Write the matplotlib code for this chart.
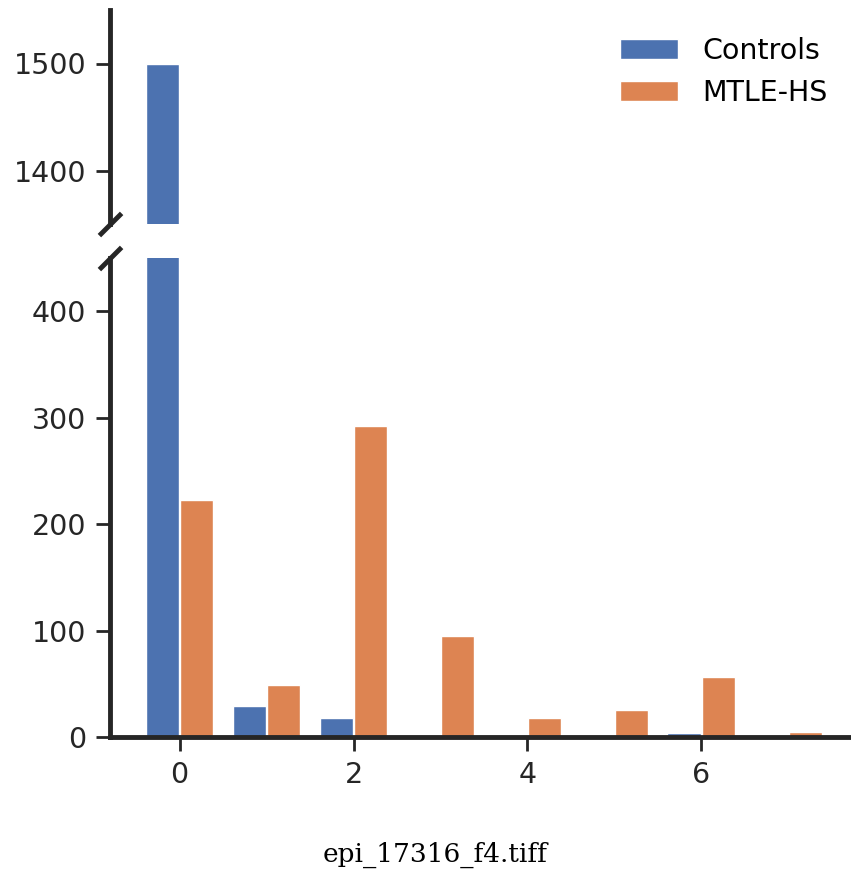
import matplotlib
matplotlib.use('Agg')
import matplotlib.pyplot as plt
import numpy as np

# bar values
positions = [0, 1, 2, 3, 4, 5, 6, 7]
controls = [1500, 29, 18, 0, 0, 0, 4, 0]
mtle_hs = [223, 49, 292, 95, 18, 25, 56, 5]
labels = ["Controls", "MTLE-HS"]
colors = ["#4c72b0", "#dd8452"]
caption = "epi_17316_f4.tiff"

plt.rcParams['font.family'] = ['DejaVu Sans']

fig = plt.figure(figsize=(8.51, 8.76), dpi=100)
W, H = 851, 876
left, right = 110 / W, 1.0
ax_top = fig.add_axes([left, 1 - 224 / H, right - left, (224 - 10) / H])
ax_bot = fig.add_axes([left, 1 - 737 / H, right - left, (737 - 258) / H])

x = np.array(positions)
w = 0.38
for ax in (ax_top, ax_bot):
    ax.bar(x - 0.2, controls, w, color=colors[0], edgecolor='white', linewidth=1, label=labels[0])
    ax.bar(x + 0.2, mtle_hs, w, color=colors[1], edgecolor='white', linewidth=1, label=labels[1])
    ax.set_xlim(-0.8, 7.72)
    for s in ('top', 'right'):
        ax.spines[s].set_visible(False)
    ax.spines['left'].set_linewidth(3.5)
    ax.spines['bottom'].set_linewidth(3.5)
    ax.tick_params(labelsize=20.5, length=10, width=2, pad=7,
                   colors='#262626', labelcolor='#262626')
    ax.spines['left'].set_color('#262626')
    ax.spines['bottom'].set_color('#262626')

ax_top.set_ylim(1350, 1550)
ax_bot.set_ylim(0, 450)
ax_top.set_yticks([1400, 1500])
ax_bot.set_yticks([0, 100, 200, 300, 400])
ax_bot.set_xticks([0, 2, 4, 6])
ax_top.spines['bottom'].set_visible(False)
ax_top.tick_params(axis='x', bottom=False, labelbottom=False)

# diagonal break marks
d = 1
kw = dict(marker=[(-1, -d), (1, d)], markersize=16, linestyle='none',
          color='#262626', mec='#262626', mew=3.5, clip_on=False)
ax_top.plot([0], [0], transform=ax_top.transAxes, **kw)
ax_bot.plot([0], [1], transform=ax_bot.transAxes, **kw)

ax_top.legend(loc='upper right', frameon=False, fontsize=20.5,
              handlelength=2.05, handleheight=0.7, labelspacing=0.5,
              handletextpad=0.85, borderaxespad=0.2,
              bbox_to_anchor=(0.992, 0.953))

fig.text(435 / W, 1 - 855 / H, caption, ha='center', va='center',
         fontsize=19, family=['DejaVu Serif'])

fig.savefig('out.png', dpi=100)
